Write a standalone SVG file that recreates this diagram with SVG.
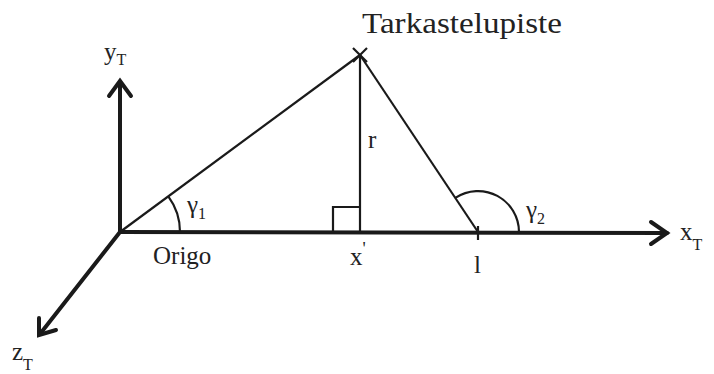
<svg xmlns="http://www.w3.org/2000/svg" width="714" height="374" viewBox="0 0 714 374">
<style>
.axis{stroke:#1a1a1a;stroke-width:4;fill:none;stroke-linecap:round}
.head{stroke:#1a1a1a;stroke-width:4;fill:none;stroke-linecap:round;stroke-linejoin:miter}
.thin{stroke:#1a1a1a;stroke-width:2.2;fill:none}
text{fill:#222}
.lbl{font-size:25px}
.sub{font-size:16px}
</style>
<rect width="714" height="374" fill="#fff"/>
<g id="connectors">
<line class="axis" x1="120" y1="232" x2="120" y2="82"/>
<polyline class="head" points="109,96 120,81 131,96"/>
<line class="axis" x1="120" y1="232" x2="667" y2="233"/>
<polyline class="head" points="651,222 667,233 651,244"/>
<line class="axis" x1="120" y1="232" x2="40" y2="334"/>
<polyline class="head" points="39,318 39,335 56,330"/>
<line class="thin" x1="120" y1="232" x2="360" y2="55"/>
<line class="thin" x1="360" y1="55" x2="478" y2="232"/>
<line class="thin" x1="360" y1="55" x2="360" y2="232"/>
<polyline class="thin" points="333,232 333,207 360,207"/>
<line class="thin" x1="478" y1="226" x2="478" y2="240"/>
<path class="thin" d="M180,232 A60,60 0 0 0 168.3,196.4"/>
<path class="thin" d="M519,232 A41,41 0 0 0 455.3,197.9"/>
</g>
<g font-family="Liberation Serif, Tinos, Times New Roman, Times, Nimbus Roman, DejaVu Serif, Noto Serif, serif">
<g id="apex">
<line class="thin" x1="353" y1="48" x2="367" y2="62"/>
<line class="thin" x1="367" y1="48" x2="353" y2="62"/>
<text x="362" y="33" font-size="29" textLength="200" lengthAdjust="spacingAndGlyphs">Tarkastelupiste</text>
</g>
<g id="y-axis-label"><text class="lbl" x="104" y="60">y<tspan class="sub" dy="5">T</tspan></text></g>
<g id="x-axis-label"><text class="lbl" x="680" y="240">x<tspan class="sub" dy="10">T</tspan></text></g>
<g id="z-axis-label"><text class="lbl" x="12" y="360">z<tspan class="sub" dy="10">T</tspan></text></g>
<g id="origo"><text class="lbl" x="153" y="264">Origo</text></g>
<g id="xprime"><text class="lbl" x="350" y="265">x<tspan font-size="18" dy="-10">'</tspan></text></g>
<g id="l-label"><text class="lbl" x="474" y="273">l</text></g>
<g id="r-label"><text class="lbl" x="368" y="148">r</text></g>
<g id="gamma1"><text class="lbl" x="187" y="213">γ<tspan class="sub" dy="6">1</tspan></text></g>
<g id="gamma2"><text class="lbl" x="526" y="218">γ<tspan class="sub" dy="6">2</tspan></text></g>
</g>
</svg>
